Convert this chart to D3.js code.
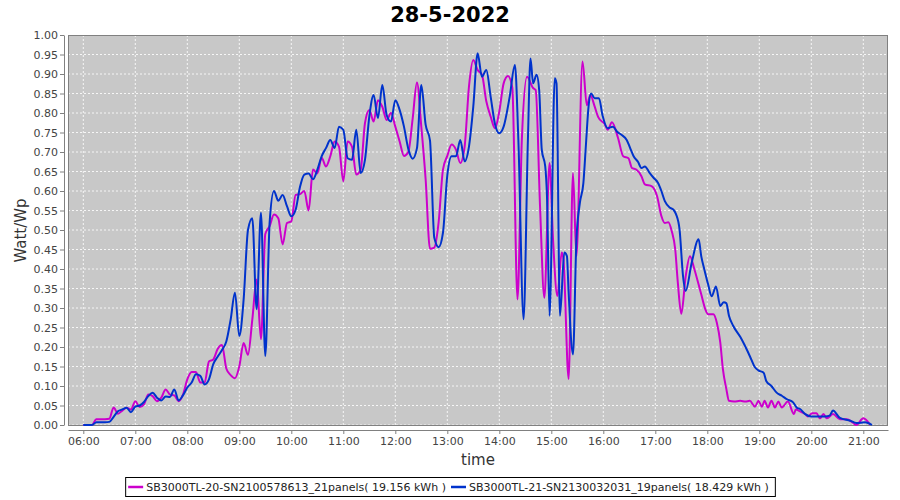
<!DOCTYPE html>
<html>
<head>
<meta charset="utf-8">
<script src="https://cdn.jsdelivr.net/npm/d3@7"></script>
<style>
  body { margin: 0; background: #fff; }
  text { font-family: "DejaVu Sans", sans-serif; }
</style>
</head>
<body>
<div id="chart"></div>
<script>
var chartTitle = "28-5-2022";
var seriesNames = ["SB3000TL-20-SN2100578613_21panels( 19.156 kWh )",
                   "SB3000TL-21-SN2130032031_19panels( 18.429 kWh )"];
var seriesColors = ["#cc00cc", "#0033cc"];

var yTicks = [0, 0.05, 0.10, 0.15, 0.20, 0.25, 0.30, 0.35, 0.40, 0.45, 0.50,
              0.55, 0.60, 0.65, 0.70, 0.75, 0.80, 0.85, 0.90, 0.95, 1.00];
var xTicks = ["06:00", "07:00", "08:00", "09:00", "10:00", "11:00", "12:00", "13:00",
              "14:00", "15:00", "16:00", "17:00", "18:00", "19:00", "20:00", "21:00"];

// SB3000TL-20 (magenta)
var magentaTimes = ["06:00","06:05","06:10","06:15","06:20","06:25","06:30","06:35","06:40","06:45","06:50","06:55",
  "07:00","07:05","07:10","07:15","07:20","07:25","07:30","07:35","07:40","07:45","07:50","07:55",
  "08:00","08:05","08:10","08:15","08:20","08:25","08:30","08:35","08:40","08:45","08:50","08:55",
  "09:00","09:05","09:10","09:15","09:20","09:25","09:30","09:35","09:40","09:45","09:50","09:55",
  "10:00","10:05","10:10","10:15","10:20","10:25","10:30","10:35","10:40","10:45","10:50","10:55",
  "11:00","11:05","11:10","11:15","11:20","11:25","11:30","11:35","11:40","11:45","11:50","11:55",
  "12:00","12:05","12:10","12:15","12:20","12:25","12:30","12:35","12:40","12:45","12:50","12:55",
  "13:00","13:05","13:10","13:15","13:20","13:25","13:30","13:35","13:40","13:45","13:50","13:55",
  "14:00","14:05","14:10","14:15","14:21","14:26","14:32","14:39","14:42","14:47","14:52","14:58",
  "15:02","15:07","15:12","15:14","15:20","15:25","15:29","15:36","15:41","15:45","15:50","15:54",
  "16:02","16:05","16:10","16:17","16:23","16:29","16:33","16:38","16:44","16:48","16:56",
  "17:02","17:07","17:11","17:15","17:19","17:23","17:26","17:30","17:35","17:40","17:45","17:50","17:53","17:58",
  "18:01","18:07","18:11","18:15","18:18","18:22","18:25","18:31","18:38","18:44","18:49","18:55","18:59",
  "19:03","19:06","19:10","19:14","19:18","19:22","19:26","19:33","19:40","19:42","19:47","19:53","19:56",
  "20:01","20:06","20:10","20:14","20:18","20:25","20:33","20:41","20:48","20:52","21:00","21:08"];
var magentaValues = [0,0,0,0.015,0.015,0.015,0.016,0.045,0.029,0.037,0.044,0.040,
  0.061,0.046,0.053,0.078,0.074,0.061,0.070,0.091,0.078,0.076,0.061,0.078,
  0.117,0.136,0.136,0.109,0.109,0.163,0.168,0.195,0.205,0.145,0.128,0.120,
  0.150,0.210,0.180,0.270,0.373,0.220,0.490,0.510,0.540,0.530,0.463,0.518,
  0.522,0.590,0.592,0.600,0.550,0.655,0.645,0.685,0.663,0.689,0.727,0.714,
  0.625,0.727,0.714,0.642,0.654,0.774,0.808,0.778,0.833,0.816,0.782,0.800,
  0.765,0.727,0.690,0.700,0.785,0.878,0.765,0.630,0.452,0.455,0.520,0.655,
  0.690,0.719,0.706,0.672,0.714,0.868,0.936,0.910,0.898,0.830,0.791,0.761,
  0.804,0.876,0.895,0.865,0.322,0.731,0.893,0.864,0.859,0.561,0.326,0.672,
  0.476,0.331,0.442,0.425,0.118,0.646,0.433,0.932,0.820,0.846,0.817,0.790,
  0.770,0.757,0.776,0.736,0.689,0.684,0.659,0.655,0.638,0.617,0.612,
  0.587,0.536,0.518,0.520,0.497,0.450,0.365,0.285,0.380,0.433,0.400,0.360,0.335,0.295,
  0.284,0.284,0.262,0.211,0.143,0.092,0.062,0.060,0.062,0.060,0.062,0.047,0.062,
  0.047,0.062,0.045,0.062,0.045,0.060,0.045,0.060,0.028,0.040,0.035,0.028,0.022,
  0.030,0.030,0.017,0.028,0.017,0.028,0.015,0.015,0.006,0.000,0.017,0.000];

// SB3000TL-21 (blue)
var blueTimes = ["06:00","06:05","06:10","06:15","06:20","06:25","06:30","06:35","06:40","06:45","06:50","06:55",
  "07:00","07:05","07:10","07:15","07:20","07:25","07:30","07:35","07:40","07:45","07:50","07:55",
  "08:00","08:05","08:10","08:15","08:20","08:25","08:30","08:35","08:40","08:45","08:50","08:55",
  "09:00","09:05","09:10","09:15","09:20","09:25","09:30","09:35","09:40","09:45","09:50","09:55",
  "10:00","10:05","10:10","10:15","10:20","10:25","10:30","10:35","10:40","10:45","10:50","10:55",
  "11:00","11:05","11:10","11:15","11:20","11:25","11:30","11:35","11:40","11:45","11:50","11:55",
  "12:00","12:05","12:10","12:15","12:20","12:25","12:30","12:35","12:40","12:45","12:50","12:55",
  "13:00","13:05","13:10","13:15","13:20","13:25","13:30","13:35","13:40","13:45","13:50","13:55",
  "14:00","14:05","14:12","14:18","14:22","14:28","14:33","14:36","14:39","14:43","14:46","14:49","14:53","14:55","14:58",
  "15:04","15:06","15:10","15:15","15:18","15:20","15:25","15:29","15:33","15:37","15:40","15:43","15:46","15:50","15:55","15:59",
  "16:05","16:11","16:16","16:21","16:27","16:31","16:35","16:40","16:44","16:48","16:53","16:58",
  "17:03","17:07","17:11","17:17","17:21","17:24","17:28","17:32","17:35","17:42","17:50","17:53","17:57",
  "18:01","18:05","18:10","18:15","18:19","18:22","18:25","18:30","18:38","18:43","18:49","18:55","18:59",
  "19:05","19:08","19:14","19:20","19:26","19:32","19:39","19:43","19:47","19:53",
  "20:00","20:08","20:16","20:21","20:25","20:33","20:45","20:52","21:02","21:10"];
var blueValues = [0,0,0,0.007,0.007,0.007,0.008,0.021,0.035,0.040,0.044,0.033,
  0.047,0.050,0.059,0.074,0.083,0.070,0.063,0.073,0.072,0.091,0.063,0.076,
  0.096,0.109,0.130,0.126,0.104,0.117,0.156,0.175,0.192,0.214,0.270,0.339,
  0.228,0.322,0.500,0.530,0.297,0.544,0.177,0.520,0.600,0.575,0.590,0.561,
  0.535,0.552,0.610,0.642,0.645,0.630,0.654,0.689,0.710,0.731,0.710,0.765,
  0.757,0.684,0.680,0.757,0.646,0.680,0.791,0.846,0.787,0.872,0.795,0.778,
  0.833,0.808,0.765,0.708,0.683,0.710,0.872,0.770,0.730,0.480,0.456,0.493,
  0.640,0.689,0.689,0.731,0.676,0.714,0.817,0.953,0.893,0.910,0.842,0.772,
  0.748,0.765,0.842,0.923,0.731,0.271,0.731,0.940,0.876,0.898,0.859,0.706,0.663,0.587,0.280,
  0.889,0.876,0.280,0.442,0.433,0.339,0.181,0.476,0.570,0.620,0.720,0.817,0.850,0.838,0.838,0.795,
  0.761,0.765,0.752,0.744,0.731,0.710,0.689,0.675,0.659,0.663,0.648,0.634,
  0.621,0.600,0.574,0.557,0.552,0.540,0.501,0.382,0.344,0.416,0.476,0.433,0.395,
  0.360,0.330,0.355,0.305,0.315,0.312,0.280,0.254,0.226,0.205,0.177,0.148,0.140,
  0.134,0.113,0.100,0.083,0.075,0.066,0.058,0.045,0.041,0.028,
  0.022,0.022,0.022,0.024,0.037,0.018,0.011,0.005,0.007,0.000];

var W = 900, H = 500;
var plot = { left: 68, top: 35, right: 888, bottom: 426 };
var axisGap = 4;

var parseTime = d3.timeParse("%Y-%m-%d %H:%M");
function toDate(s) { return parseTime("2022-05-28 " + s); }

// 06:00 sits at 83.3px, one hour is 52px
var hourPx = 52, sixPx = 83.3;
var msPerPx = 3600000 / hourPx;
var t6 = toDate("06:00");
var x = d3.scaleTime()
  .domain([new Date(+t6 - (sixPx - plot.left) * msPerPx), new Date(+t6 + (plot.right - sixPx) * msPerPx)])
  .range([plot.left, plot.right]);
var y = d3.scaleLinear().domain([0, 1]).range([plot.bottom - 1, plot.top]);

var svg = d3.select("#chart").append("svg")
  .attr("width", W)
  .attr("height", H);

svg.append("rect").attr("width", W).attr("height", H).attr("fill", "#fff");

svg.append("text")
  .attr("x", W / 2)
  .attr("y", 22)
  .attr("text-anchor", "middle")
  .attr("font-size", "21px")
  .attr("font-weight", "bold")
  .attr("fill", "#000")
  .text(chartTitle);

// plot background
svg.append("rect")
  .attr("x", plot.left)
  .attr("y", plot.top)
  .attr("width", plot.right - plot.left)
  .attr("height", plot.bottom - plot.top)
  .attr("fill", "#c8c8c8");

var grid = svg.append("g").attr("class", "grid");
grid.selectAll(".vgrid")
  .data(xTicks)
  .enter().append("line")
  .attr("x1", function(d) { return x(toDate(d)) })
  .attr("x2", function(d) { return x(toDate(d)) })
  .attr("y1", plot.top)
  .attr("y2", plot.bottom)
  .attr("stroke", "#fff")
  .attr("stroke-width", 1)
  .attr("stroke-dasharray", "2,2")
  .attr("opacity", 0.85);
grid.selectAll(".hgrid")
  .data(yTicks)
  .enter().append("line")
  .attr("x1", plot.left)
  .attr("x2", plot.right)
  .attr("y1", function(d) { return y(d) })
  .attr("y2", function(d) { return y(d) })
  .attr("stroke", "#fff")
  .attr("stroke-width", 1)
  .attr("stroke-dasharray", "2,2")
  .attr("opacity", 0.85);

// plot outline
svg.append("rect")
  .attr("x", plot.left + 0.5)
  .attr("y", plot.top + 0.5)
  .attr("width", plot.right - plot.left - 1)
  .attr("height", plot.bottom - plot.top - 1)
  .attr("fill", "none")
  .attr("stroke", "#808080");

svg.append("defs").append("clipPath").attr("id", "clip")
  .append("rect")
  .attr("x", plot.left)
  .attr("y", plot.top)
  .attr("width", plot.right - plot.left)
  .attr("height", plot.bottom - plot.top + 1);

var line = d3.line()
  .x(function(d) { return x(d.time) })
  .y(function(d) { return y(d.value) })
  .curve(d3.curveMonotoneX);

var series = [
  { times: magentaTimes, values: magentaValues },
  { times: blueTimes, values: blueValues }
].map(function(s) {
  return s.times.map(function(t, i) { return { time: toDate(t), value: s.values[i] } });
});

svg.append("g").attr("clip-path", "url(#clip)")
  .selectAll("path")
  .data(series)
  .enter().append("path")
  .attr("d", line)
  .attr("fill", "none")
  .attr("stroke", function(d, i) { return seriesColors[i] })
  .attr("stroke-width", 2)
  .attr("stroke-linejoin", "round");

var xAxis = d3.axisBottom(x)
  .tickValues(xTicks.map(toDate))
  .tickFormat(d3.timeFormat("%H:%M"))
  .tickSize(4)
  .tickSizeOuter(0)
  .tickPadding(3);
var yAxis = d3.axisLeft(y)
  .tickValues(yTicks)
  .tickFormat(d3.format(".2f"))
  .tickSize(4)
  .tickSizeOuter(0)
  .tickPadding(2);

var gx = svg.append("g")
  .attr("transform", "translate(0," + (plot.bottom + axisGap) + ")")
  .call(xAxis);
var gy = svg.append("g")
  .attr("transform", "translate(" + (plot.left - axisGap) + ",0)")
  .call(yAxis);

[gx, gy].forEach(function(g) {
  g.select(".domain").attr("stroke", "#808080");
  g.selectAll(".tick line").attr("stroke", "#808080");
  g.selectAll(".tick text")
    .attr("fill", "#444")
    .attr("font-size", "11px")
    .style("font-family", "'DejaVu Sans', sans-serif");
});

svg.append("text")
  .attr("transform", "translate(26," + ((plot.top + plot.bottom) / 2) + ") rotate(-90)")
  .attr("text-anchor", "middle")
  .attr("font-size", "15px")
  .attr("fill", "#333")
  .text("Watt/Wp");

svg.append("text")
  .attr("x", (plot.left + plot.right) / 2)
  .attr("y", 465)
  .attr("text-anchor", "middle")
  .attr("font-size", "15px")
  .attr("fill", "#333")
  .text("time");

// legend
var legend = svg.append("g");
var legendItems = legend.selectAll(".item")
  .data(seriesNames)
  .enter().append("g");
legendItems.append("text")
  .attr("font-size", "11px")
  .attr("fill", "#222")
  .attr("y", 491)
  .text(function(d) { return d });

var widths = [];
legendItems.each(function(d, i) {
  widths.push(d3.select(this).select("text").node().getComputedTextLength());
});
var itemW = widths.map(function(w) { return 18 + w + 5 });
var totalW = d3.sum(itemW);
var boxLeft = W / 2 - 2 - totalW / 2;
var cursor = boxLeft + 3;
legendItems.each(function(d, i) {
  var g = d3.select(this);
  g.insert("line", "text")
    .attr("x1", cursor)
    .attr("x2", cursor + 15)
    .attr("y1", 487)
    .attr("y2", 487)
    .attr("stroke", seriesColors[i])
    .attr("stroke-width", 2.5);
  g.select("text").attr("x", cursor + 18);
  cursor += itemW[i];
});
legend.insert("rect", "g")
  .attr("x", boxLeft + 0.5)
  .attr("y", 477.5)
  .attr("width", totalW + 4)
  .attr("height", 19)
  .attr("fill", "#fff")
  .attr("stroke", "#000");
</script>
</body>
</html>
